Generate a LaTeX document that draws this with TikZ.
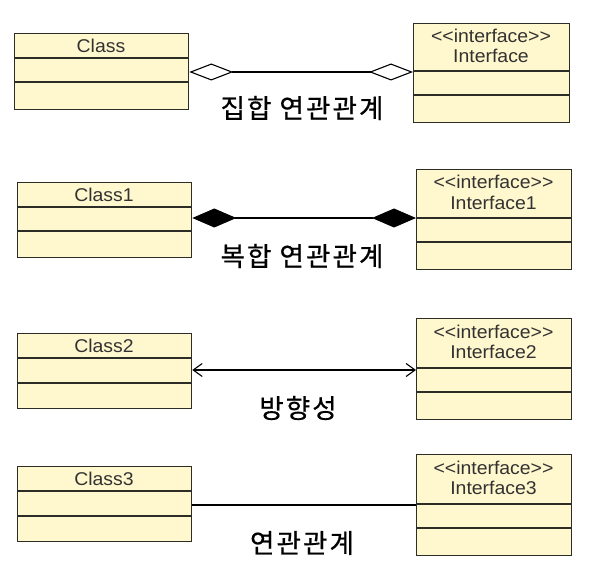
\documentclass[tikz,border=0pt]{standalone}
\usepackage{fontspec}
\usepackage{graphicx}
\usetikzlibrary{arrows.meta}
\newfontfamily\umlfont{Liberation Sans}
\newfontfamily\krfont[LetterSpace=8, FakeBold=0.6]{Noto Sans CJK KR}
\definecolor{boxfill}{RGB}{255,247,205}
\definecolor{boxline}{RGB}{45,45,40}
\definecolor{txt}{RGB}{50,50,50}
\tikzset{
  umlbox/.style={draw=boxline, fill=boxfill, line width=1.3pt, inner sep=0pt, anchor=north west},
  ctitle/.style={font=\umlfont\fontsize{18.5}{20.5}\selectfont, text=txt, align=center, inner sep=0pt},
  sepline/.style={draw=boxline, line width=1.3pt},
  conn/.style={draw=black, line width=1.1pt},
  aggr/.style={conn, {Diamond[open, length=44pt, width=17pt, line width=1.1pt]}-{Diamond[open, length=44pt, width=17pt, line width=1.1pt]}},
  compo/.style={conn, {Diamond[length=44pt, width=19pt]}-{Diamond[length=44pt, width=19pt]}},
  navi/.style={conn, {Straight Barb[length=9pt, width=13pt, line width=1.1pt]}-{Straight Barb[length=9pt, width=13pt, line width=1.1pt]}},
  lbl/.style={font=\krfont\fontsize{26.5}{29}\selectfont, inner sep=0pt}
}
\newcommand{\sx}[1]{\scalebox{1.05}[1]{#1}}
\begin{document}
\begin{tikzpicture}[x=1pt, y=-1pt]
\useasboundingbox[fill=white] (0,0) rectangle (595,572);

% ---------- group 1 : aggregation ----------
\node[umlbox, minimum width=174pt, minimum height=76pt] (cA) at (14,33) {};
\draw[sepline] (cA.west |- 0,58) -- (cA.east |- 0,58);
\draw[sepline] (cA.west |- 0,82) -- (cA.east |- 0,82);
\node[ctitle] (cAt) at (101,45.5) {\sx{Class}};
\node[umlbox, minimum width=156pt, minimum height=99pt] (iA) at (413,23) {};
\draw[sepline] (iA.west |- 0,71) -- (iA.east |- 0,71);
\draw[sepline] (iA.west |- 0,95) -- (iA.east |- 0,95);
\node[ctitle] (iAt) at (491,46) {\sx{<<interface>>}\\\sx{Interface}};
\draw[aggr] (cA.east |- 0,72) -- (iA.west |- 0,72);
\node[lbl] (lA) at (302,108) {집합 연관관계};

% ---------- group 2 : composition ----------
\node[umlbox, minimum width=174pt, minimum height=75pt] (cB) at (17,182) {};
\draw[sepline] (cB.west |- 0,207) -- (cB.east |- 0,207);
\draw[sepline] (cB.west |- 0,231) -- (cB.east |- 0,231);
\node[ctitle] (cBt) at (104,194.5) {\sx{Class1}};
\node[umlbox, minimum width=155pt, minimum height=100pt] (iB) at (416,169) {};
\draw[sepline] (iB.west |- 0,218) -- (iB.east |- 0,218);
\draw[sepline] (iB.west |- 0,242) -- (iB.east |- 0,242);
\node[ctitle] (iBt) at (493.5,192.5) {\sx{<<interface>>}\\\sx{Interface1}};
\draw[compo] (cB.east |- 0,218) -- (iB.west |- 0,218);
\node[lbl] (lB) at (302,256) {복합 연관관계};

% ---------- group 3 : navigability ----------
\node[umlbox, minimum width=174pt, minimum height=75pt] (cC) at (17,333) {};
\draw[sepline] (cC.west |- 0,358) -- (cC.east |- 0,358);
\draw[sepline] (cC.west |- 0,383) -- (cC.east |- 0,383);
\node[ctitle] (cCt) at (104,345.5) {\sx{Class2}};
\node[umlbox, minimum width=155pt, minimum height=101pt] (iC) at (416,318) {};
\draw[sepline] (iC.west |- 0,368) -- (iC.east |- 0,368);
\draw[sepline] (iC.west |- 0,392) -- (iC.east |- 0,392);
\node[ctitle] (iCt) at (493.5,342) {\sx{<<interface>>}\\\sx{Interface2}};
\draw[navi] (cC.east |- 0,370) -- (iC.west |- 0,370);
\node[lbl] (lC) at (298,408) {방향성};

% ---------- group 4 : association ----------
\node[umlbox, minimum width=174pt, minimum height=75pt] (cD) at (17,466) {};
\draw[sepline] (cD.west |- 0,491) -- (cD.east |- 0,491);
\draw[sepline] (cD.west |- 0,516) -- (cD.east |- 0,516);
\node[ctitle] (cDt) at (104,478.5) {\sx{Class3}};
\node[umlbox, minimum width=155pt, minimum height=101pt] (iD) at (416,454) {};
\draw[sepline] (iD.west |- 0,504) -- (iD.east |- 0,504);
\draw[sepline] (iD.west |- 0,528) -- (iD.east |- 0,528);
\node[ctitle] (iDt) at (493.5,478) {\sx{<<interface>>}\\\sx{Interface3}};
\draw[conn] (cD.east |- 0,505) -- (iD.west |- 0,505);
\node[lbl] (lD) at (302,543) {연관관계};
\end{tikzpicture}
\end{document}
